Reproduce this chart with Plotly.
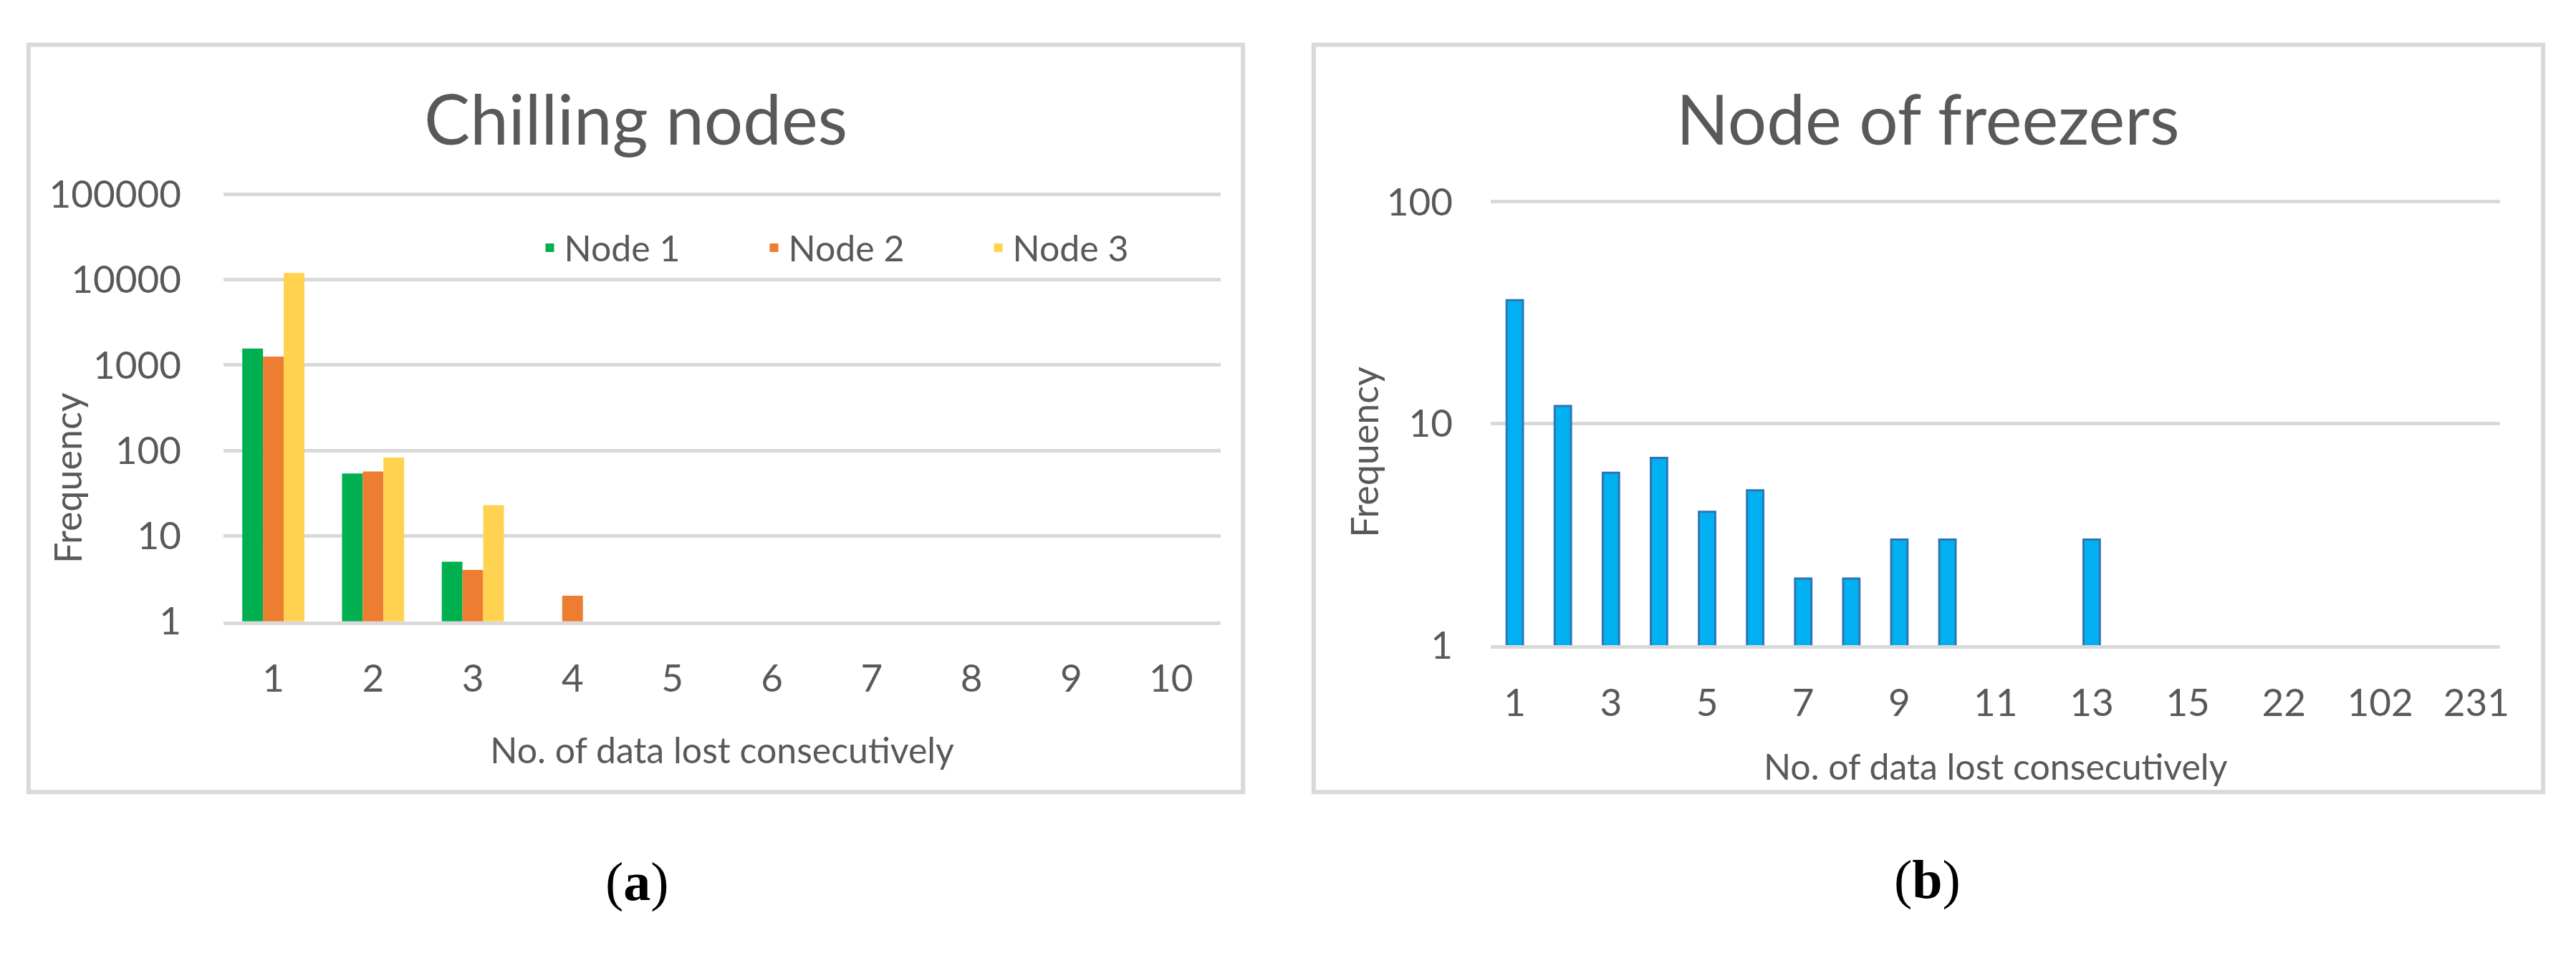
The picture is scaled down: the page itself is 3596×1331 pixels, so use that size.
import plotly.graph_objects as go

W, H = 3596, 1331

# ---------------- data ----------------
chill_cats = ["1", "2", "3", "4", "5", "6", "7", "8", "9", "10"]
node1 = [1570, 54, 5, 0, 0, 0, 0, 0, 0, 0]
node2 = [1260, 57, 4, 2, 0, 0, 0, 0, 0, 0]
node3 = [12000, 83, 23, 0, 0, 0, 0, 0, 0, 0]
chill_yticks = [1, 10, 100, 1000, 10000, 100000]

freezer_cats = ["1", "2", "3", "4", "5", "6", "7", "8", "9", "10", "11", "12",
                "13", "14", "15", "18", "22", "45", "102", "150", "231"]
freezer_freq = [36, 12, 6, 7, 4, 5, 2, 2, 3, 3, 1, 1, 3, 1, 1, 1, 1, 1, 1, 1, 1]
freezer_yticks = [1, 10, 100]

series_names = ["Node 1", "Node 2", "Node 3"]
series_colors = ["#00B050", "#ED7D31", "#FFD34F"]

TXT = "#595959"
GRID = "#D9D9D9"
FONT = "Lato"


def px(x):
    return x / W


def py(y):
    return 1 - y / H


fig = go.Figure()

for name, vals, col in zip(series_names, [node1, node2, node3], series_colors):
    fig.add_trace(go.Bar(x=chill_cats, y=vals, name=name, marker=dict(color=col, line=dict(width=0)),
                         xaxis="x", yaxis="y"))

fig.add_trace(go.Bar(x=freezer_cats, y=freezer_freq, name="Freezer", showlegend=False,
                     width=0.34, offset=-0.17,
                     marker=dict(color="#00B0F0",
                                 line=dict(color="#2E75B6",
                                           width=[3 if v > 1 else 0 for v in freezer_freq])),
                     xaxis="x2", yaxis="y2"))

tickfont = dict(family=FONT, size=53, color=TXT)

# small headroom so the top gridline is drawn inside the plot area
L_TOP, L_DEC = 5.02, 125.0      # left: 1..1e5, px per decade
R_TOP, R_DEC = 2.01, 324.5      # right: 1..100

fig.update_layout(
    width=W, height=H,
    margin=dict(l=0, r=0, t=0, b=0),
    paper_bgcolor="white", plot_bgcolor="white",
    barmode="group", bargap=0.377, bargroupgap=0.0,
    font=dict(family=FONT, color=TXT),
    showlegend=True,
    legend=dict(orientation="h", x=px(750), xanchor="left", y=py(330), yanchor="middle",
                font=dict(family=FONT, size=50, color=TXT), bgcolor="rgba(0,0,0,0)",
                entrywidth=268, entrywidthmode="pixels"),
    xaxis=dict(domain=[px(313), px(1710)], anchor="y", type="category",
               showgrid=False, showline=True, linecolor=GRID, linewidth=5,
               ticks="", tickfont=tickfont, ticklabelstandoff=30,
               title=dict(text="No. of data lost consecutively",
                          font=dict(family=FONT, size=50, color=TXT), standoff=56)),
    yaxis=dict(domain=[py(877), py(877 - L_TOP * L_DEC)], anchor="x", type="log", range=[0, L_TOP],
               tickvals=chill_yticks, ticktext=[str(v) for v in chill_yticks],
               showgrid=True, gridcolor=GRID, gridwidth=5, zeroline=False, showline=False,
               ticks="", tickfont=tickfont, ticklabelstandoff=58),
    xaxis2=dict(domain=[px(2088), px(3502)], anchor="y2", type="category",
                tickvals=freezer_cats[::2], ticktext=freezer_cats[::2],
                showgrid=False, showline=True, linecolor=GRID, linewidth=5,
                ticks="", tickfont=tickfont, ticklabelstandoff=30,
                title=dict(text="No. of data lost consecutively",
                           font=dict(family=FONT, size=50, color=TXT), standoff=46)),
    yaxis2=dict(domain=[py(912), py(912 - R_TOP * R_DEC)], anchor="x2", type="log", range=[0, R_TOP],
                tickvals=freezer_yticks, ticktext=[str(v) for v in freezer_yticks],
                showgrid=True, gridcolor=GRID, gridwidth=5, zeroline=False, showline=False,
                ticks="", tickfont=tickfont, ticklabelstandoff=52),
)

# panel frames
for x0, x1 in [(40, 1741), (1840, 3562)]:
    fig.add_shape(type="rect", xref="paper", yref="paper", x0=px(x0), x1=px(x1), y0=py(33), y1=py(1127),
                  line=dict(color=GRID, width=6), fillcolor="rgba(0,0,0,0)", layer="below")

ann = [
    dict(text="Chilling nodes", x=px(890), y=py(140), size=96, family=FONT, color=TXT, angle=0),
    dict(text="Node of freezers", x=px(2700), y=py(140), size=96, family=FONT, color=TXT, angle=0),
    dict(text="Frequency", x=px(95), y=py(667), size=52, family=FONT, color=TXT, angle=-90),
    dict(text="Frequency", x=px(1911), y=py(629), size=52, family=FONT, color=TXT, angle=-90),
    dict(text="(<b>a</b>)", x=px(892), y=py(1258), size=76, family="Liberation Serif", color="black", angle=0),
    dict(text="(<b>b</b>)", x=px(2700), y=py(1255), size=76, family="Liberation Serif", color="black", angle=0),
]
for a in ann:
    fig.add_annotation(text=a["text"], x=a["x"], y=a["y"], xref="paper", yref="paper",
                       xanchor="center", yanchor="middle", showarrow=False, textangle=a["angle"],
                       font=dict(family=a["family"], size=a["size"], color=a["color"]))

fig.write_html("out.html", config={"displayModeBar": False},
               post_script="document.body.style.margin='0';document.body.style.overflow='hidden';")
